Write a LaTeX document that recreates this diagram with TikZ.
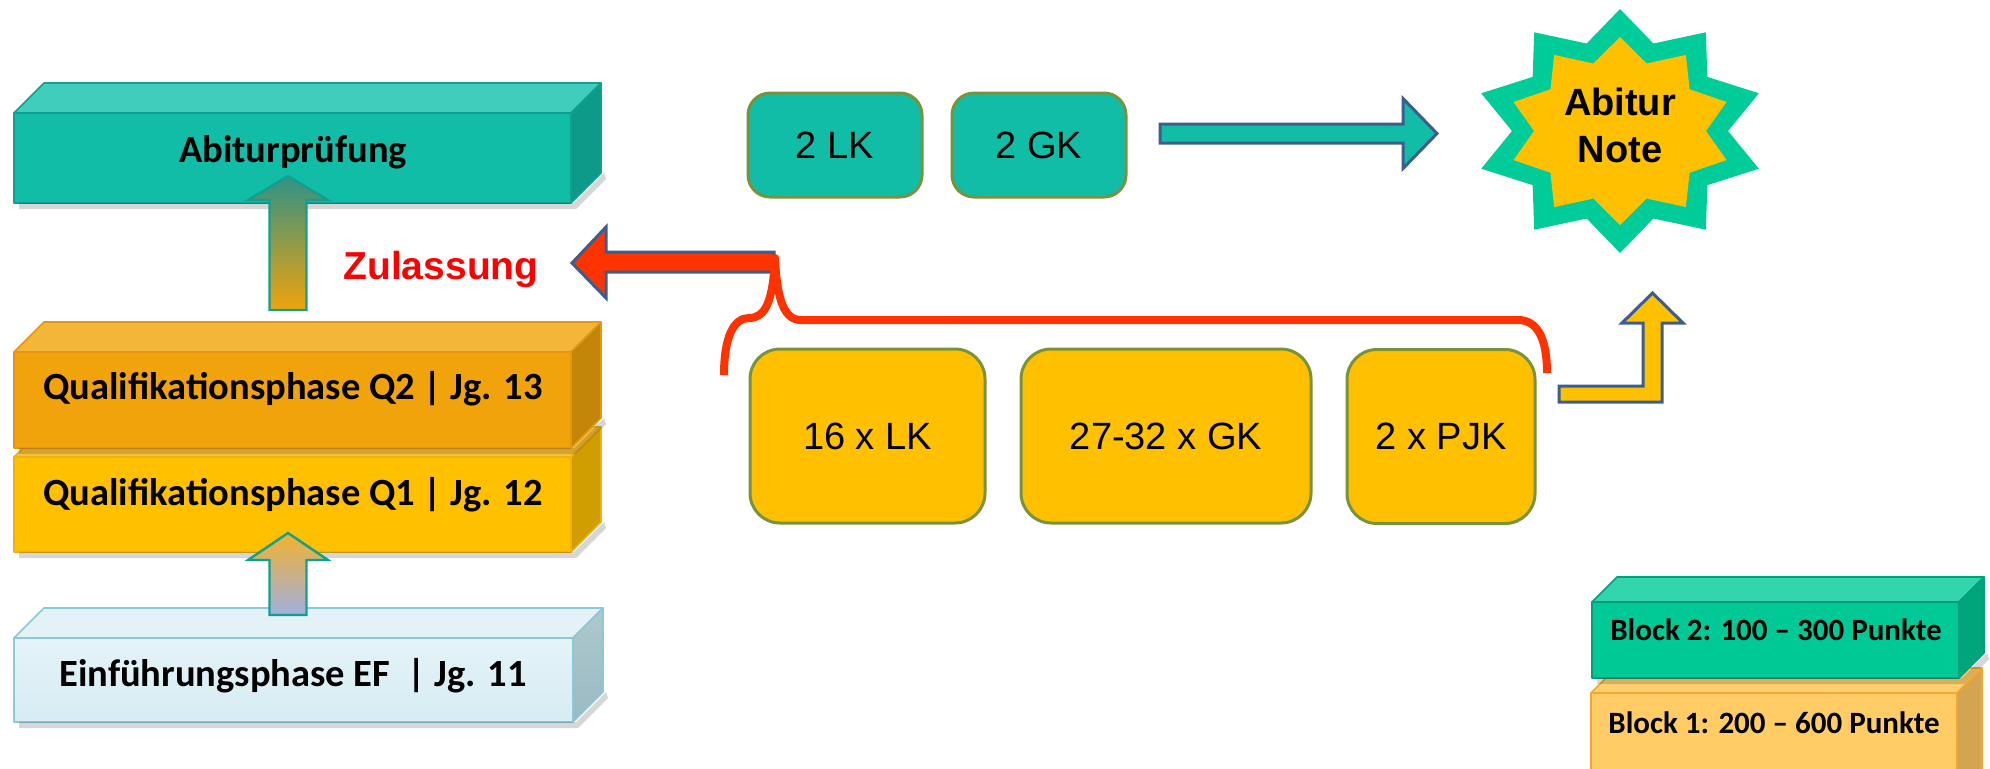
\documentclass[tikz,border=0pt]{standalone}
\usepackage{fontspec}
\setmainfont{Carlito}
\newfontfamily\arialf{Liberation Sans}
\usetikzlibrary{calc}

\definecolor{tealF}{RGB}{18,189,168}
\definecolor{tealT}{RGB}{64,205,188}
\definecolor{tealS}{RGB}{14,154,137}
\definecolor{tealD}{RGB}{16,160,142}
\definecolor{qbF}{RGB}{240,163,10}
\definecolor{qbT}{RGB}{243,182,56}
\definecolor{qbS}{RGB}{196,134,8}
\definecolor{qbD}{RGB}{230,150,20}
\definecolor{qaF}{RGB}{255,192,0}
\definecolor{qaT}{RGB}{248,196,60}
\definecolor{qaS}{RGB}{208,158,0}
\definecolor{qaD}{RGB}{240,175,20}
\definecolor{efF}{RGB}{214,236,243}
\definecolor{efL}{RGB}{228,243,248}
\definecolor{efT}{RGB}{226,242,247}
\definecolor{efS}{RGB}{154,186,194}
\definecolor{efD}{RGB}{140,200,216}
\definecolor{bbF}{RGB}{0,201,150}
\definecolor{bbT}{RGB}{51,214,172}
\definecolor{bbS}{RGB}{0,165,124}
\definecolor{bbD}{RGB}{0,160,125}
\definecolor{baF}{RGB}{255,204,102}
\definecolor{baT}{RGB}{255,208,112}
\definecolor{baS}{RGB}{212,165,80}
\definecolor{baD}{RGB}{240,168,48}
\definecolor{starG}{RGB}{0,204,153}
\definecolor{yel}{RGB}{255,192,0}
\definecolor{olive}{RGB}{119,147,60}
\definecolor{arrB}{RGB}{59,94,140}
\definecolor{redO}{RGB}{255,51,0}
\definecolor{lavender}{RGB}{160,176,224}

\tikzset{
 abifront/.style={fill=tealF,draw=tealD,line width=0.8pt},
 abitop/.style={fill=tealT,draw=tealD,line width=0.8pt},
 abiside/.style={fill=tealS,draw=tealD,line width=0.8pt},
 qbfront/.style={fill=qbF,draw=qbD,line width=0.8pt},
 qbtop/.style={fill=qbT,draw=qbD,line width=0.8pt},
 qbside/.style={fill=qbS,draw=qbD,line width=0.8pt},
 qafront/.style={fill=qaF,draw=qaD,line width=0.8pt},
 qatop/.style={fill=qaT,draw=qaD,line width=0.8pt},
 qaside/.style={fill=qaS,draw=qaD,line width=0.8pt},
 effront/.style={top color=efL,bottom color=efF,draw=efD,line width=0.8pt},
 eftop/.style={fill=efT,draw=efD,line width=0.8pt},
 efside/.style={top color=efS!80!white,bottom color=efS,draw=efD,line width=0.8pt},
 bbfront/.style={fill=bbF,draw=bbD,line width=0.8pt},
 bbtop/.style={fill=bbT,draw=bbD,line width=0.8pt},
 bbside/.style={fill=bbS,draw=bbD,line width=0.8pt},
 bafront/.style={fill=baF,draw=baD,line width=0.8pt},
 batop/.style={fill=baT,draw=baD,line width=0.8pt},
 baside/.style={fill=baS,draw=baD,line width=0.8pt},
 slabtext/.style={font=\fontsize{19.25pt}{23pt}\selectfont\bfseries,inner sep=0pt,anchor=base},
 blocktext/.style={font=\fontsize{15.5pt}{19pt}\selectfont\bfseries,inner sep=0pt,anchor=base},
 tealbox/.style={draw=olive,line width=1.5pt,fill=tealF,rounded corners=11pt,
   minimum width=87pt,minimum height=52pt,inner sep=0pt,
   font=\arialf\fontsize{19pt}{23pt}\selectfont},
 yelbox/.style={draw=olive,line width=1.5pt,fill=yel,rounded corners=15pt,
   minimum height=87pt,inner sep=0pt,
   font=\arialf\fontsize{19pt}{23pt}\selectfont},
 blockarrow/.style={draw=arrB,line width=1.5pt,line join=miter},
 bracestyle/.style={draw=redO,line width=4pt,line join=round,line cap=butt},
}

\newcommand\slab[7]{%
  \node[#6front,anchor=north west,outer sep=0pt,inner sep=0pt,
        minimum width=#4*0.5pt,minimum height=#5*0.5pt] (#1) at (#2,#3) {};
  \fill[black,opacity=0.16] ($(#1.south west)+(5,0)$) -- ($(#1.south east)+(3,0)$)
      -- ($(#1.south east)+(#7+3,-#7)$) -- ($(#1.south east)+(#7+5,-#7+6)$)
      -- ($(#1.south east)+(5,6)$) -- ($(#1.south west)+(5,6)$) -- cycle;
  \draw[#6top] (#1.north west) -- ++(#7,-#7) -- ++(#4,0) -- (#1.north east) -- cycle;
  \draw[#6side] (#1.north east) -- ++(#7,-#7) -- ++(0,#5) -- (#1.south east) -- cycle;
}

\begin{document}
\begin{tikzpicture}[x=0.5pt,y=-0.5pt,line join=round]
\clip (0,0) rectangle (1990,768);
\fill[white] (0,0) rectangle (1990,768);

% ---------- left column ----------
\slab{abibox}{14}{113}{557}{90}{abi}{30}
\slab{qabox}{14}{457}{557}{95}{qa}{30}
\slab{qbbox}{14}{352}{557}{96}{qb}{30}
\slab{efbox}{14}{638}{559}{84}{ef}{30}

\node[slabtext] (abit) at (293,162) {Abiturprüfung};
\node[slabtext] (qbt) at (293,399) {Qualifikationsphase Q2 | Jg. 13};
\node[slabtext] (qat) at (293,505) {Qualifikationsphase Q1 | Jg. 12};
\node[slabtext] (eft) at (293,686) {Einführungsphase EF~ | Jg. 11};

% up arrows
\coordinate (g1b) at (288,310);
\coordinate (g1t) at (288,176);
\draw[draw=tealD,line width=1.2pt,line join=miter,top color=tealS!70!gray,bottom color=qbF]
  ($(g1b)+(-18.5,0)$) -- ($(g1t)+(-18.5,24)$) -- ($(g1t)+(-40,24)$) -- (g1t)
  -- ($(g1t)+(40,24)$) -- ($(g1t)+(18.5,24)$) -- ($(g1b)+(18.5,0)$) -- cycle;

\coordinate (g2b) at (288,615);
\coordinate (g2t) at (288,533);
\draw[draw=tealD,line width=1.2pt,line join=miter,top color=qbF!85!white,bottom color=lavender]
  ($(g2b)+(-18.5,0)$) -- ($(g2t)+(-18.5,27)$) -- ($(g2t)+(-40,27)$) -- (g2t)
  -- ($(g2t)+(40,27)$) -- ($(g2t)+(18.5,27)$) -- ($(g2b)+(18.5,0)$) -- cycle;

% Zulassung
\node[anchor=base,inner sep=0pt,text=red,font=\arialf\bfseries\fontsize{19.5pt}{23pt}\selectfont]
  (zul) at (441,279) {Zulassung};

% ---------- top row ----------
\node[tealbox] (lk2) at (835,145) {2 LK};
\node[tealbox] (gk2) at (1039,145) {2 GK};

\coordinate (tStart) at (1160,133.5);
\coordinate (tTip) at (1437,133.5);
\draw[blockarrow,fill=tealF]
  ($(tStart)+(0,-9.5)$) -- ($(tTip)+(-34,-9.5)$) -- ($(tTip)+(-34,-35)$) -- (tTip)
  -- ($(tTip)+(-34,35)$) -- ($(tTip)+(-34,9.5)$) -- ($(tStart)+(0,9.5)$) -- cycle;

% star
\coordinate (starc) at (1620,131);
\fill[starG] plot[samples at={0,...,19},variable=\k]
  ({1620+(mod(\k,2)==0 ? 146 : 108)*cos(90+18*\k)},{131-(mod(\k,2)==0 ? 122 : 92)*sin(90+18*\k)}) -- cycle;
\fill[yel] plot[samples at={0,...,19},variable=\k]
  ({1620+(mod(\k,2)==0 ? 112 : 86)*cos(90+18*\k)},{131-(mod(\k,2)==0 ? 94 : 71)*sin(90+18*\k)}) -- cycle;
\node[align=center,inner sep=0pt,font=\arialf\bfseries\fontsize{19pt}{23.5pt}\selectfont]
  (note) at (1620,125) {Abitur\\Note};

% ---------- yellow row ----------
\node[yelbox,minimum width=117.5pt] (lk16) at (867.5,436) {16 x LK};
\node[yelbox,minimum width=145pt] (gk27) at (1166,436) {27-32 x GK};
\node[yelbox,minimum width=94pt] (pjk2) at (1441,436.5) {2 x PJK};

% red left arrow
\coordinate (rTip) at (572,263);
\coordinate (rEnd) at (774,262);
\draw[blockarrow,fill=redO]
  ($(rEnd)+(0,-10)$) -- ($(rTip)+(34,-11)$) -- ($(rTip)+(34,-36)$) -- (rTip)
  -- ($(rTip)+(34,35)$) -- ($(rTip)+(34,9)$) -- ($(rEnd)+(0,10)$) -- cycle;

% brace
\coordinate (brL) at (724,375);
\coordinate (brR) at (1547,373);
\draw[bracestyle] (brL) .. controls (724,336) and (734,318) .. (749,318)
  .. controls (765,318) and (773,302) .. (775,258)
  .. controls (777,302) and (785,320) .. (801,320) -- (1518,320)
  .. controls (1537,320) and (1547,338) .. (brR);

% yellow bent arrow
\coordinate (yStart) at (1559,394);
\coordinate (yTip) at (1652.5,293);
\draw[blockarrow,fill=yel]
  ($(yStart)+(0,-8)$) -- ($(yTip)+(-9.5,93)$) -- ($(yTip)+(-9.5,30)$) -- ($(yTip)+(-30.5,30)$)
  -- (yTip) -- ($(yTip)+(30.5,30)$) -- ($(yTip)+(9.5,30)$) -- ($(yTip)+(9.5,109)$)
  -- ($(yStart)+(0,8)$) -- cycle;

% ---------- legend blocks ----------
\slab{babox}{1591}{693}{366}{120}{ba}{25}
\slab{bbbox}{1592}{602}{367}{76}{bb}{25}
\node[blocktext] (bbt) at (1776,640) {Block 2: 100 – 300 Punkte};
\node[blocktext] (bat) at (1774,733) {Block 1: 200 – 600 Punkte};
\end{tikzpicture}
\end{document}
